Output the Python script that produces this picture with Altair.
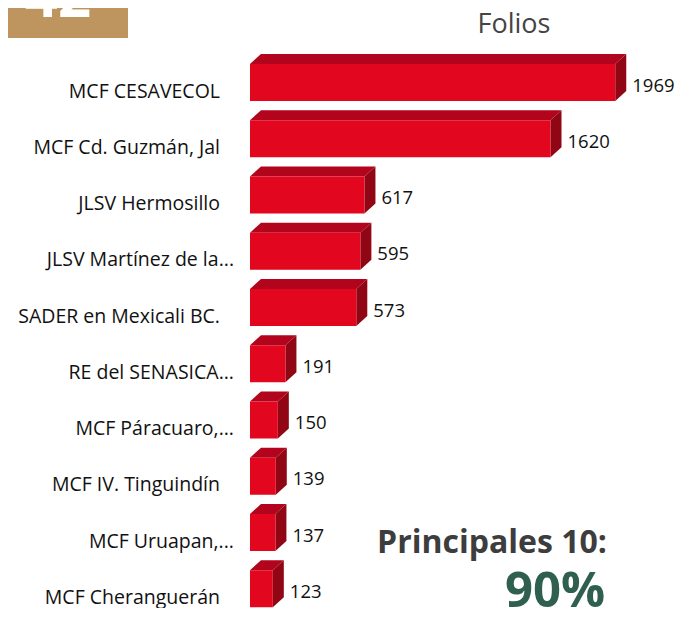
import altair as alt
import pandas as pd

# ---- data ----
categories = [
    "MCF CESAVECOL",
    "MCF Cd. Guzmán, Jal",
    "JLSV Hermosillo",
    "JLSV Martínez de la...",
    "SADER en Mexicali  BC.",
    "RE del SENASICA...",
    "MCF Páracuaro,...",
    "MCF IV. Tinguindín",
    "MCF Uruapan,...",
    "MCF Cheranguerán",
]
values = [1969, 1620, 617, 595, 573, 191, 150, 139, 137, 123]
title_text = "Folios"
badge_text = "42"
note_text = "Principales 10:"
note_pct = "90%"

# ---- layout / style ----
W, H = 667, 600
PX_PER_UNIT = 0.1855
X0_PX = 242
ROW_PX = 56.25
ROW0_PX = 74.5
FACE_HALF = 18.5 / ROW_PX
DEPTH_X = 11 / PX_PER_UNIT
DEPTH_Y = 10 / ROW_PX

RED = "#E2061F"
TOP = "#B2041C"
SIDE = "#900614"
FONT = "Open Sans"

x_scale = alt.Scale(domain=[-X0_PX / PX_PER_UNIT, (W - X0_PX) / PX_PER_UNIT], nice=False, zero=False)
y_scale = alt.Scale(domain=[-ROW0_PX / ROW_PX, (H - ROW0_PX) / ROW_PX], reverse=True, nice=False, zero=False)

bars = pd.DataFrame({"rank": list(range(len(categories))), "cat": categories, "value": values})
bars["x0"] = 0.0
bars["front_top"] = bars["rank"] - FACE_HALF
bars["front_bot"] = bars["rank"] + FACE_HALF
bars["xback"] = bars["value"] + DEPTH_X

top_rows, side_rows = [], []
for r, v in zip(bars["rank"], bars["value"]):
    top_rows.append({"rank": r, "yy": r - FACE_HALF, "xa": 0.0, "xb": v})
    top_rows.append({"rank": r, "yy": r - FACE_HALF - DEPTH_Y, "xa": DEPTH_X, "xb": v + DEPTH_X})
    side_rows.append({"rank": r, "xx": v, "ya": r - FACE_HALF, "yb": r + FACE_HALF})
    side_rows.append({"rank": r, "xx": v + DEPTH_X, "ya": r - FACE_HALF - DEPTH_Y, "yb": r + FACE_HALF - DEPTH_Y})
top_df = pd.DataFrame(top_rows)
side_df = pd.DataFrame(side_rows)

X = lambda f: alt.X(f, scale=x_scale, axis=None)
Y = lambda f: alt.Y(f, scale=y_scale, axis=None)

front = alt.Chart(bars).mark_rect(color=RED).encode(
    x=X("x0:Q"), x2="value:Q", y=Y("front_top:Q"), y2="front_bot:Q"
)
top = alt.Chart(top_df).mark_area(orient="horizontal", color=TOP).encode(
    y=Y("yy:Q"), x=X("xa:Q"), x2="xb:Q", detail="rank:N"
)
side = alt.Chart(side_df).mark_area(orient="vertical", color=SIDE).encode(
    x=X("xx:Q"), y=Y("ya:Q"), y2="yb:Q", detail="rank:N"
)

value_labels = alt.Chart(bars).mark_text(
    align="left", baseline="middle", dx=6, dy=3, font=FONT, fontSize=18.5, color="#111111"
).encode(x=X("xback:Q"), y=Y("rank:Q"), text="value:Q")

cat_short = alt.Chart(bars).transform_filter(
    "indexof(datum.cat, '...') >= 0"
).mark_text(
    align="right", baseline="middle", dx=-16, dy=9, font=FONT, fontSize=19.5, color="#111111"
).encode(x=X("x0:Q"), y=Y("rank:Q"), text="cat:N")

cat_full = alt.Chart(bars).transform_filter(
    "indexof(datum.cat, '...') < 0"
).mark_text(
    align="right", baseline="middle", dx=-30, dy=9, font=FONT, fontSize=19.5, color="#111111"
).encode(x=X("x0:Q"), y=Y("rank:Q"), text="cat:N")

deco = pd.DataFrame({"badge": [badge_text], "title": [title_text], "note": [note_text], "pct": [note_pct]})

badge_box = alt.Chart(deco).mark_rect(color="#BE955E").encode(
    x=alt.value(0), x2=alt.value(120), y=alt.value(0), y2=alt.value(30)
)
badge = alt.Chart(deco).mark_text(
    font=FONT, fontWeight="bold", fontSize=58, color="white", align="center", baseline="alphabetic"
).encode(x=alt.value(50), y=alt.value(9), text="badge:N")

title = alt.Chart(deco).mark_text(
    font=FONT, fontSize=27, color="#444444", align="center", baseline="alphabetic"
).encode(x=alt.value(506), y=alt.value(25), text="title:N")

note = alt.Chart(deco).mark_text(
    font=FONT, fontWeight="bold", fontSize=32, color="#3d3d3d", align="center", baseline="alphabetic"
).encode(x=alt.value(484), y=alt.value(545), text="note:N")

pct = alt.Chart(deco).mark_text(
    font=FONT, fontWeight="bold", fontSize=49, color="#2F5F4F", align="center", baseline="alphabetic"
).encode(x=alt.value(547), y=alt.value(599), text="pct:N")

chart = alt.layer(
    top, side, front, value_labels, cat_short, cat_full, badge_box, badge, title, note, pct
).properties(
    width=W, height=H, autosize=alt.AutoSizeParams(type="none"), padding=0, background="white"
).configure_view(stroke=None)

chart.save("out.html", embed_options={"renderer": "svg", "actions": False})
